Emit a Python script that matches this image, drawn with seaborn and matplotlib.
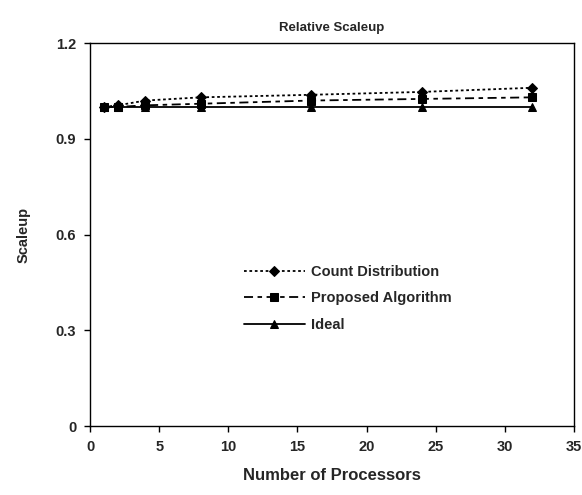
import matplotlib
matplotlib.use("Agg")
from matplotlib import pyplot as plt
import seaborn as sns
import pandas as pd

processors = [1, 2, 4, 8, 16, 24, 32]
count_distribution = [1.0, 1.005, 1.02, 1.03, 1.038, 1.047, 1.06]
proposed_algorithm = [1.0, 1.0, 1.005, 1.01, 1.02, 1.025, 1.03]
ideal = [1.0, 1.0, 1.0, 1.0, 1.0, 1.0, 1.0]

series = {
    'Count Distribution': count_distribution,
    'Proposed Algorithm': proposed_algorithm,
    'Ideal': ideal,
}
df = pd.concat(
    [pd.DataFrame({'Processors': processors, 'Scaleup': v, 'Series': k}) for k, v in series.items()],
    ignore_index=True,
)

sns.set_style('white')
plt.rcParams['font.family'] = ['Liberation Sans', 'DejaVu Sans']
plt.rcParams['font.weight'] = 'bold'

fig = plt.figure(figsize=(5.82, 4.95), dpi=100)
ax = fig.add_axes([0.155, 0.139, 0.831, 0.774])

styles = {
    'Count Distribution': dict(ls=(0, (1.5, 1.5)), marker='D', ms=5),
    'Proposed Algorithm': dict(ls=(0, (5, 2.5, 2.5, 2.5)), marker='s', ms=5.5),
    'Ideal': dict(ls='-', marker='^', ms=6),
}
for name, st in styles.items():
    sns.lineplot(data=df[df['Series'] == name], x='Processors', y='Scaleup', ax=ax,
                 color='black', lw=1.3, linestyle=st['ls'], marker=st['marker'],
                 markersize=st['ms'], markeredgecolor='black', label=name)

ax.set_xlim(0, 35)
ax.set_ylim(0, 1.2)
ax.set_xticks(range(0, 36, 5))
ax.set_yticks([0, 0.3, 0.6, 0.9, 1.2])
ax.set_yticklabels(['0', '0.3', '0.6', '0.9', '1.2'])
ax.tick_params(axis='both', direction='out', length=4, width=1, color='black',
               labelsize=10.5, pad=6, bottom=True, left=True)
for lab in ax.get_xticklabels() + ax.get_yticklabels():
    lab.set_fontweight('bold')
for sp in ax.spines.values():
    sp.set_color('black')
    sp.set_linewidth(1)

ax.set_xlabel('Number of Processors', fontsize=12, fontweight='bold', labelpad=10)
ax.set_ylabel('Scaleup', fontsize=10.5, fontweight='bold', labelpad=18)
ax.set_title('Relative Scaleup', fontsize=9.5, fontweight='bold', pad=9)

leg = ax.legend(loc='upper left', bbox_to_anchor=(0.29, 0.455), frameon=False,
                handlelength=4.2, handletextpad=0.4, labelspacing=0.85,
                prop={'weight': 'bold', 'size': 10.5})

fig.savefig('out.png', dpi=100)
